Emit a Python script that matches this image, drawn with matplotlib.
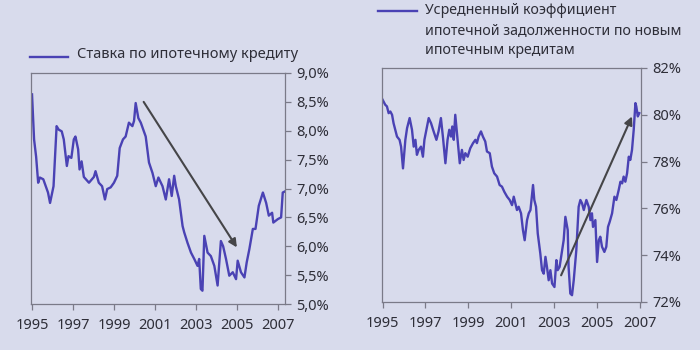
import matplotlib
matplotlib.use('Agg')
import matplotlib.pyplot as plt
from matplotlib.lines import Line2D

plt.rcParams['font.family'] = ['Noto Sans', 'DejaVu Sans']

# Ставка по ипотечному кредиту, %
rate_years = [1995.00, 1995.10, 1995.20, 1995.30, 1995.38, 1995.55, 1995.78, 1995.88,
              1996.05, 1996.20, 1996.30, 1996.45, 1996.55, 1996.70, 1996.78, 1996.92,
              1997.04, 1997.12, 1997.25, 1997.32, 1997.42, 1997.53, 1997.78, 1998.02,
              1998.10, 1998.26, 1998.42, 1998.56, 1998.67, 1998.84, 1999.00, 1999.16,
              1999.28, 1999.44, 1999.57, 1999.73, 1999.90, 1999.98, 2000.06, 2000.19,
              2000.31, 2000.55, 2000.71, 2000.88, 2001.04, 2001.17, 2001.37, 2001.53,
              2001.69, 2001.82, 2001.94, 2002.02, 2002.18, 2002.35, 2002.43, 2002.59,
              2002.76, 2002.92, 2003.08, 2003.16, 2003.24, 2003.32, 2003.41, 2003.57,
              2003.73, 2003.90, 2004.06, 2004.22, 2004.33, 2004.47, 2004.63, 2004.80,
              2004.96, 2005.04, 2005.20, 2005.37, 2005.48, 2005.61, 2005.78, 2005.91,
              2006.07, 2006.27, 2006.43, 2006.56, 2006.72, 2006.78, 2007.00, 2007.16,
              2007.24, 2007.35]
rate_values = [8.63, 7.85, 7.55, 7.10, 7.19, 7.16, 6.93, 6.75,
               7.04, 8.08, 8.02, 7.99, 7.85, 7.39, 7.56, 7.53,
               7.85, 7.90, 7.68, 7.33, 7.47, 7.20, 7.10, 7.20,
               7.30, 7.10, 7.04, 6.81, 6.99, 7.02, 7.10, 7.22,
               7.70, 7.85, 7.90, 8.14, 8.08, 8.17, 8.48, 8.22,
               8.14, 7.90, 7.45, 7.27, 7.04, 7.19, 7.04, 6.81,
               7.16, 6.87, 7.22, 7.04, 6.81, 6.35, 6.24, 6.06,
               5.89, 5.78, 5.66, 5.78, 5.26, 5.23, 6.18, 5.89,
               5.83, 5.66, 5.32, 6.09, 6.00, 5.78, 5.49, 5.55,
               5.43, 5.75, 5.55, 5.46, 5.72, 5.95, 6.30, 6.30,
               6.70, 6.93, 6.75, 6.53, 6.58, 6.41, 6.47, 6.50,
               6.93, 6.95]

# Усредненный коэффициент ипотечной задолженности, %
ltv_years = [1995.00, 1995.12, 1995.20, 1995.28, 1995.36, 1995.44, 1995.51, 1995.67,
             1995.79, 1995.86, 1995.95, 1996.06, 1996.14, 1996.26, 1996.37, 1996.45,
             1996.53, 1996.60, 1996.68, 1996.79, 1996.88, 1996.95, 1997.07, 1997.15,
             1997.26, 1997.38, 1997.51, 1997.61, 1997.72, 1997.82, 1997.93, 1998.03,
             1998.11, 1998.19, 1998.25, 1998.32, 1998.39, 1998.47, 1998.60, 1998.70,
             1998.78, 1998.86, 1998.97, 1999.09, 1999.22, 1999.33, 1999.40, 1999.48,
             1999.59, 1999.68, 1999.79, 1999.87, 2000.00, 2000.10, 2000.21, 2000.34,
             2000.46, 2000.57, 2000.68, 2000.81, 2000.93, 2001.04, 2001.12, 2001.27,
             2001.35, 2001.46, 2001.55, 2001.63, 2001.74, 2001.82, 2001.90, 2002.02,
             2002.08, 2002.16, 2002.24, 2002.36, 2002.44, 2002.52, 2002.60, 2002.67,
             2002.75, 2002.83, 2002.91, 2003.02, 2003.11, 2003.17, 2003.26, 2003.33,
             2003.45, 2003.53, 2003.64, 2003.68, 2003.76, 2003.84, 2003.92, 2004.04,
             2004.15, 2004.23, 2004.31, 2004.39, 2004.51, 2004.62, 2004.70, 2004.77,
             2004.82, 2004.93, 2005.01, 2005.09, 2005.16, 2005.24, 2005.35, 2005.44,
             2005.52, 2005.60, 2005.71, 2005.82, 2005.91, 2006.02, 2006.10, 2006.18,
             2006.25, 2006.33, 2006.41, 2006.49, 2006.56, 2006.64, 2006.72, 2006.80,
             2006.84, 2006.91, 2006.98]
ltv_values = [80.64, 80.43, 80.36, 80.07, 80.14, 80.00, 79.64, 79.07,
              78.93, 78.64, 77.71, 78.93, 79.43, 79.86, 79.36, 78.64,
              78.93, 78.29, 78.50, 78.64, 78.21, 78.93, 79.50, 79.86,
              79.64, 79.29, 78.93, 79.29, 79.86, 79.00, 77.93, 78.93,
              79.36, 79.07, 79.50, 78.93, 80.00, 79.21, 77.93, 78.50,
              78.07, 78.36, 78.21, 78.57, 78.79, 78.93, 78.79, 79.07,
              79.29, 79.07, 78.86, 78.43, 78.36, 77.79, 77.50, 77.36,
              77.00, 76.93, 76.71, 76.50, 76.36, 76.14, 76.50, 75.93,
              76.07, 75.79, 75.07, 74.64, 75.50, 75.79, 75.93, 77.00,
              76.36, 76.07, 74.93, 74.07, 73.36, 73.21, 73.93, 73.50,
              72.93, 73.36, 72.79, 72.64, 73.79, 73.36, 73.50, 73.93,
              74.64, 75.64, 75.07, 73.50, 72.36, 72.29, 72.93, 74.21,
              76.07, 76.36, 76.21, 75.93, 76.36, 76.07, 75.50, 75.79,
              75.21, 75.50, 73.71, 74.64, 74.79, 74.36, 74.14, 74.36,
              75.21, 75.43, 75.79, 76.50, 76.36, 76.79, 77.14, 77.07,
              77.36, 77.14, 77.50, 78.21, 78.07, 78.50, 79.36, 80.50,
              80.36, 79.93, 80.07]

year_ticks = [1995, 1997, 1999, 2001, 2003, 2005, 2007]
rate_ticks = [5.0, 5.5, 6.0, 6.5, 7.0, 7.5, 8.0, 8.5, 9.0]
rate_labels = ['5,0%', '5,5%', '6,0%', '6,5%', '7,0%', '7,5%', '8,0%', '8,5%', '9,0%']
ltv_ticks = [72, 74, 76, 78, 80, 82]
ltv_labels = ['72%', '74%', '76%', '78%', '80%', '82%']
ltv_legend = ['Усредненный коэффициент',
              'ипотечной задолженности по новым',
              'ипотечным кредитам']

bg = '#d8dbec'
line_col = '#4a42b4'
txt_col = '#2e2e38'
spine_col = '#7a7a88'

fig = plt.figure(figsize=(7, 3.5), dpi=100, facecolor=bg)
ax1 = fig.add_axes([31/700, 46/350, 254/700, 231/350], facecolor=bg)
ax2 = fig.add_axes([382/700, 48/350, 259/700, 234/350], facecolor=bg)

ax1.plot(rate_years, rate_values, color=line_col, lw=1.7)
ax1.set_xlim(1994.95, 2007.35)
ax1.set_ylim(5.0, 9.0)
ax1.set_yticks(rate_ticks)
ax1.set_yticklabels(rate_labels)
ax1.annotate('', xy=(2005.0, 5.98), xytext=(2000.45, 8.5),
             arrowprops=dict(arrowstyle='-|>', color='#454548', lw=1.5,
                             mutation_scale=12, shrinkA=0, shrinkB=0))

ax2.plot(ltv_years, ltv_values, color=line_col, lw=1.7)
ax2.set_xlim(1994.97, 2007.06)
ax2.set_ylim(72, 82)
ax2.set_yticks(ltv_ticks)
ax2.set_yticklabels(ltv_labels)
ax2.annotate('', xy=(2006.64, 79.93), xytext=(2003.33, 73.14),
             arrowprops=dict(arrowstyle='-|>', color='#454548', lw=1.5,
                             mutation_scale=12, shrinkA=0, shrinkB=0))

for ax in (ax1, ax2):
    ax.set_xticks(year_ticks)
    ax.set_xticklabels([str(y) for y in year_ticks])
    ax.yaxis.tick_right()
    for s in ax.spines.values():
        s.set_color(spine_col)
        s.set_linewidth(0.9)
    ax.tick_params(axis='both', colors=spine_col, labelcolor=txt_col,
                   labelsize=10.5, length=4, width=0.9)
    ax.tick_params(axis='x', pad=6)
    ax.tick_params(axis='y', pad=4)

# легенды
fig.add_artist(Line2D([30/700, 68/700], [1 - 57/350, 1 - 57/350], color=line_col, lw=1.7))
fig.text(77/700, 1 - 55/350, 'Ставка по ипотечному кредиту', fontsize=10.5,
         color=txt_col, va='center', ha='left')
fig.add_artist(Line2D([378/700, 417/700], [1 - 11/350, 1 - 11/350], color=line_col, lw=1.7))
for i, line in enumerate(ltv_legend):
    fig.text(425/700, 1 - (11 + 20 * i)/350, line, fontsize=10.2,
             color=txt_col, va='center', ha='left')

fig.savefig('out.png', dpi=100, facecolor=bg)
